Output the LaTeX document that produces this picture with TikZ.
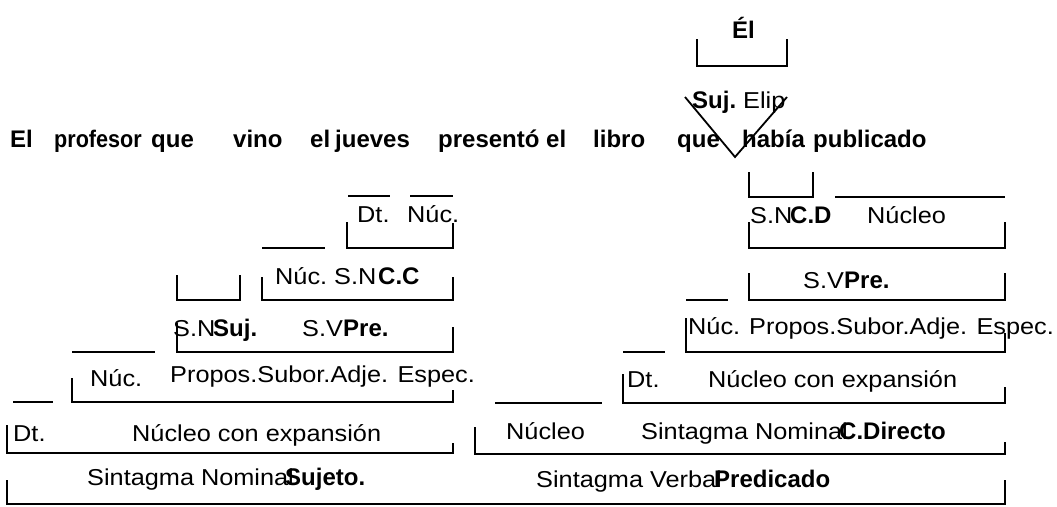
\documentclass[tikz,border=0pt]{standalone}
\usepackage{fontspec}
\setmainfont{Liberation Sans}
\newfontfamily\regfont{Liberation Sans}[FakeStretch=1.1]
\begin{document}
\begin{tikzpicture}[x=1pt,y=-1pt,
  lbl/.style={anchor=base west,inner sep=0pt,font=\regfont\fontsize{23}{28}\selectfont},
  blbl/.style={anchor=base west,inner sep=0pt,font=\fontsize{24}{28}\selectfont\bfseries},
  br/.style={line width=1.8pt,black}]
\useasboundingbox[fill=white] (0,0) rectangle (1057,506);
% top
\node[blbl] (el) at (732,38) {Él};
\draw[br] (697,39) -- (697,66) -- (787,66) -- (787,39);
\node[blbl] (suj) at (692,108) {Suj.};
\node[lbl] (elip) at (743,108) {Elip};
\draw[br] (685,97) -- (735,157) -- (787,97);
% sentence
\node[blbl] (w1) at (10,147) {El};
\node[blbl] (w2) at (54,147) {\scalebox{0.9}[1]{profesor}};
\foreach \w/\x [count=\i from 3] in {que/151,vino/233,el/310,jueves/335,presentó/438,el/546,libro/593,que/677,había/742,publicado/813}
  \node[blbl] (w\i) at (\x,147) {\w};
% left brackets
\draw[br] (348,196) -- (390,196);
\draw[br] (410,196) -- (453,196);
\node[lbl] (ldt1) at (357,222) {Dt.};
\node[lbl] (lnuc1) at (407,222) {Núc.};
\draw[br] (347,222) -- (347,248) -- (453,248) -- (453,223);
\draw[br] (262,248) -- (325,248);
\node[lbl] (lnuc2) at (275,284) {Núc.\ S.N};
\node[blbl] (lcc) at (378,284) {C.C};
\draw[br] (262,277) -- (262,300) -- (453,300) -- (453,277);
\draw[br] (177,275) -- (177,300) -- (240,300) -- (240,275);
\node[lbl] (lsn) at (173,336) {S.N};
\node[blbl] (lsuj) at (213,336) {Suj.};
\node[lbl] (lsv) at (302,336) {S.V};
\node[blbl] (lpre) at (343,336) {Pre.};
\draw[br] (177,323) -- (177,352) -- (453,352) -- (453,327);
\draw[br] (72,352) -- (155,352);
\node[lbl] (lnuc3) at (90,386) {Núc.};
\node[lbl] (lprop) at (170,382) {Propos.Subor.Adje. Espec.};
\draw[br] (72,378) -- (72,402) -- (453,402) -- (453,390);
\draw[br] (13,402) -- (53,402);
\node[lbl] (ldt2) at (13,441) {Dt.};
\node[lbl] (lnce) at (132,441) {Núcleo con expansión};
\draw[br] (7,425) -- (7,453) -- (453,453) -- (453,443);
\node[lbl] (lsnom) at (87,485) {Sintagma Nominal};
\node[blbl] (lsujeto) at (285,485) {Sujeto.};
\draw[br] (7,480) -- (7,504) -- (1005,504) -- (1005,480);
% right brackets
\draw[br] (749,172) -- (749,197) -- (813,197) -- (813,172);
\draw[br] (835,197) -- (1005,197);
\node[lbl] (rsn) at (750,223) {S.N};
\node[blbl] (rcd) at (790,223) {C.D};
\node[lbl] (rnuc1) at (867,223) {Núcleo};
\draw[br] (749,222) -- (749,248) -- (1005,248) -- (1005,222);
\node[lbl] (rsv) at (803,288) {S.V};
\node[blbl] (rpre) at (844,288) {Pre.};
\draw[br] (749,273) -- (749,300) -- (1005,300) -- (1005,273);
\draw[br] (686,300) -- (728,300);
\node[lbl] (rnuc2) at (688,334) {Núc.};
\node[lbl] (rprop) at (749,334) {Propos.Subor.Adje. Espec.};
\draw[br] (686,318) -- (686,352) -- (1005,352) -- (1005,333);
\draw[br] (623,352) -- (665,352);
\node[lbl] (rdt) at (627,387) {Dt.};
\node[lbl] (rnce) at (708,387) {Núcleo con expansión};
\draw[br] (623,374) -- (623,403) -- (1005,403) -- (1005,387);
\draw[br] (495,403) -- (602,403);
\node[lbl] (rnuc3) at (506,439) {Núcleo};
\node[lbl] (rsnom) at (641,439) {Sintagma Nominal};
\node[blbl] (rcdir) at (839,439) {C.Directo};
\draw[br] (475,427) -- (475,454) -- (1005,454) -- (1005,442);
\node[lbl] (rsver) at (536,487) {Sintagma Verbal};
\node[blbl] (rpred) at (714,487) {Predicado};
\end{tikzpicture}
\end{document}
